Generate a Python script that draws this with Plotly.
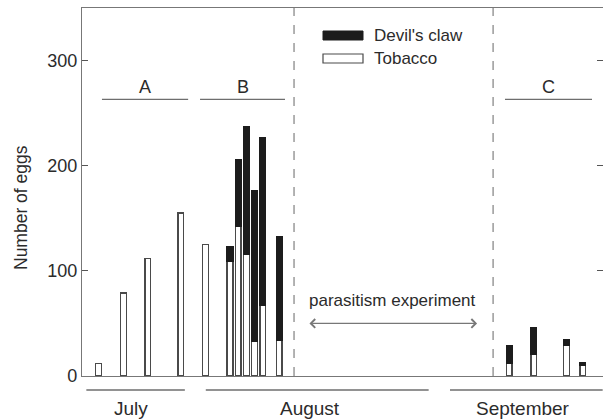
import plotly.graph_objects as go

# ---- data ----
day = [0, 3, 6, 10, 13, 16, 17, 18, 19, 20, 22, 50, 53, 57, 59]
tobacco = [12, 79, 112, 155, 125, 109, 142, 116, 33, 67, 34, 12, 21, 29, 10]
devils_claw = [None, None, None, None, None, 14, 64, 121, 143, 160, 99, 17, 25, 6, 3]
y_ticks = [0, 100, 200, 300]
months = ["July", "August", "September"]
month_centers = [3.95, 25.7, 51.7]
month_spans = [(-1.5, 10.5), (13.05, 40.2), (42.8, 61.4)]
groups = ["A", "B", "C"]
group_spans = [(0.4, 10.9), (12.35, 22.7), (49.5, 60.1)]
group_line_y = 263
group_label_y = 275
experiment_bounds = [23.8, 48.05]
arrow_span = (25.5, 46.1)
arrow_y = 50
arrow_label_y = 72

X0, X1 = -2.03, 61.44
FONT = "Liberation Sans, Arial, sans-serif"
TXT = "#2b2b2b"
GRAY = "#6e6e6e"
L, R, T, B = 82, 0, 8, 44
W, H = 603, 420
PW, PH = W - L - R, H - T - B

def px(xp):
    return (xp - L) / PW

def py(yp):
    return (H - B - yp) / PH

fig = go.Figure()
fig.add_trace(go.Bar(x=day, y=tobacco, name="Tobacco", width=0.7,
                     marker=dict(color="white", line=dict(color="#4a4a4a", width=1.3)),
                     showlegend=False))
fig.add_trace(go.Bar(x=day, y=devils_claw, name="Devil's claw", width=0.7,
                     marker=dict(color="#1c1c1c", line=dict(color="#1c1c1c", width=1.3)),
                     showlegend=False))

shapes = []
annotations = []
# dashed experiment boundaries
for xb in experiment_bounds:
    shapes.append(dict(type="line", xref="x", yref="paper", x0=xb, x1=xb, y0=0, y1=1,
                       line=dict(color="#8a8a8a", width=1.3, dash="dash")))
# group lines and labels
for g, (a, b) in zip(groups, group_spans):
    shapes.append(dict(type="line", xref="x", yref="y", x0=a, x1=b, y0=group_line_y, y1=group_line_y,
                       line=dict(color=GRAY, width=1.3)))
    annotations.append(dict(x=(a + b) / 2, y=group_label_y, xref="x", yref="y", text=g, showarrow=False,
                            font=dict(size=18, color=TXT, family=FONT)))
# month lines and labels below the axis
for m, c, (a, b) in zip(months, month_centers, month_spans):
    pa = (a - X0) / (X1 - X0)
    pb = (b - X0) / (X1 - X0)
    shapes.append(dict(type="line", xref="paper", yref="paper", x0=pa, x1=pb, y0=py(390), y1=py(390),
                       line=dict(color=GRAY, width=1.3)))
    annotations.append(dict(x=c, y=py(408), xref="x", yref="paper", text=m, showarrow=False,
                            yanchor="middle", font=dict(size=19, color=TXT, family=FONT)))
# parasitism arrow
annotations.append(dict(x=arrow_span[1], y=arrow_y, ax=arrow_span[0], ay=arrow_y, xref="x", yref="y",
                        axref="x", ayref="y", text="", showarrow=True, arrowhead=4, startarrowhead=4,
                        arrowside="end+start", arrowsize=1.3, arrowwidth=1.3, arrowcolor="#777777"))
annotations.append(dict(x=sum(arrow_span) / 2, y=arrow_label_y, xref="x", yref="y",
                        text="parasitism experiment", showarrow=False,
                        font=dict(size=17, color=TXT, family=FONT)))
# custom legend
shapes.append(dict(type="rect", xref="paper", yref="paper", x0=px(323), x1=px(363), y0=py(40), y1=py(31),
                   fillcolor="#1c1c1c", line=dict(color="#1c1c1c", width=1)))
shapes.append(dict(type="rect", xref="paper", yref="paper", x0=px(323), x1=px(363), y0=py(63), y1=py(54),
                   fillcolor="white", line=dict(color="#4a4a4a", width=1.2)))
annotations.append(dict(x=px(372), y=py(35.5), xref="paper", yref="paper", text="Devil's claw",
                        showarrow=False, xanchor="left", yanchor="middle",
                        font=dict(size=17, color=TXT, family=FONT)))
annotations.append(dict(x=px(372), y=py(58.5), xref="paper", yref="paper", text="Tobacco",
                        showarrow=False, xanchor="left", yanchor="middle",
                        font=dict(size=17, color=TXT, family=FONT)))
# y axis title
annotations.append(dict(x=px(21), y=py(208), xref="paper", yref="paper", text="Number of eggs",
                        showarrow=False, textangle=-90, xanchor="center", yanchor="middle",
                        font=dict(size=17.5, color=TXT, family=FONT)))

fig.update_layout(
    width=W, height=H, barmode="stack",
    margin=dict(l=L, r=R, t=T, b=B),
    paper_bgcolor="white", plot_bgcolor="white",
    font=dict(family=FONT, size=17, color=TXT),
    shapes=shapes, annotations=annotations,
    xaxis=dict(range=[X0, X1], showgrid=False, zeroline=False, showticklabels=False, ticks="",
               showline=True, linecolor="#777777", linewidth=1.3, mirror=True),
    yaxis=dict(range=[0, 350], tickvals=y_ticks, showgrid=False, zeroline=False,
               ticks="inside", ticklen=6, tickcolor="#555555", tickwidth=1.3,
               showline=True, linecolor="#777777", linewidth=1.3, mirror="ticks",
               tickfont=dict(size=18, color=TXT, family=FONT)),
)

fig.write_html("out.html")
